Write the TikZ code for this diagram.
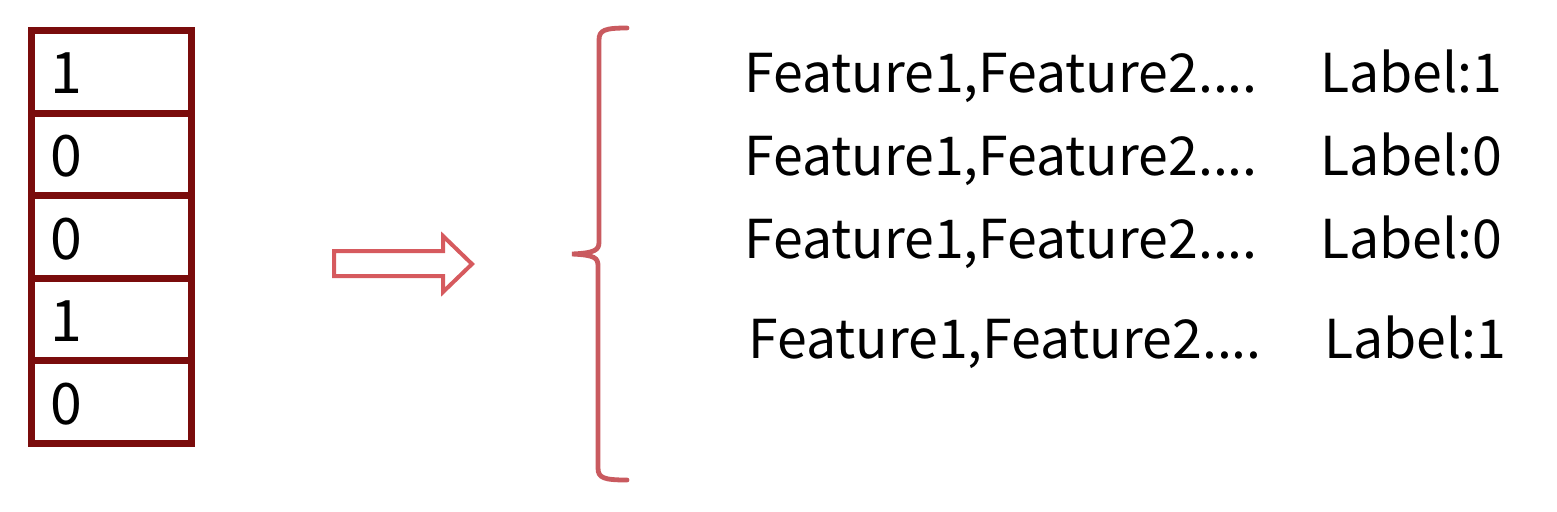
\documentclass[tikz,border=0pt]{standalone}
\usepackage{fontspec}
\setmainfont{Noto Sans CJK SC}
\definecolor{boxred}{HTML}{7A0C0C}
\definecolor{arrred}{HTML}{D65A5E}
\definecolor{brred}{HTML}{C95A5F}
\begin{document}
\begin{tikzpicture}[x=0.5pt,y=-0.5pt,
  cell/.style={draw=boxred, line width=3.5pt, minimum width=79.75pt, minimum height=41.3pt, inner sep=0pt},
  digit/.style={font=\fontsize{28.6}{30}\selectfont, anchor=west, inner sep=0pt},
  feat/.style={font=\fontsize{26.8}{28}\selectfont, anchor=base west, inner sep=0pt}]
\useasboundingbox (0,0) rectangle (1557,511);
\foreach \i/\d [count=\k] in {0/1,1/0,2/0,3/1,4/0}{
  \node[cell] (c\k) at (111.25, {30.5+82.6*\i+41.3}) {};
  \node[digit] (d\k) at (50, {30.5+82.6*\i+43}) {\d};
}
% block arrow
\draw[arrred, line width=2pt, line join=miter]
  (334,251) -- (443,251) -- (443,236) -- (472,264) -- (443,292) -- (443,276) -- (334,276) -- cycle;
% brace
\coordinate (btop) at (627,28);
\coordinate (bmid) at (572,254);
\coordinate (bbot) at (627,480);
\draw[brred, line width=2.4pt, line cap=round]
  (btop) .. controls (605,28) and (599,30) .. (599,40)
  -- (599,242) .. controls (599,250) and (595,253) .. (bmid)
  .. controls (595,255) and (598,258) .. (598,266)
  -- (598,468) .. controls (598,478) and (604,480) .. (bbot);
\foreach \y/\l/\dx [count=\k] in {92/1/0,175/0/0,258/0/0,358/1/4}{
  \node[feat] (f\k) at (744+\dx,\y) {Feature1,Feature2....};
  \node[feat] (l\k) at (1320+\dx,\y) {Label:\l};
}
\end{tikzpicture}
\end{document}
